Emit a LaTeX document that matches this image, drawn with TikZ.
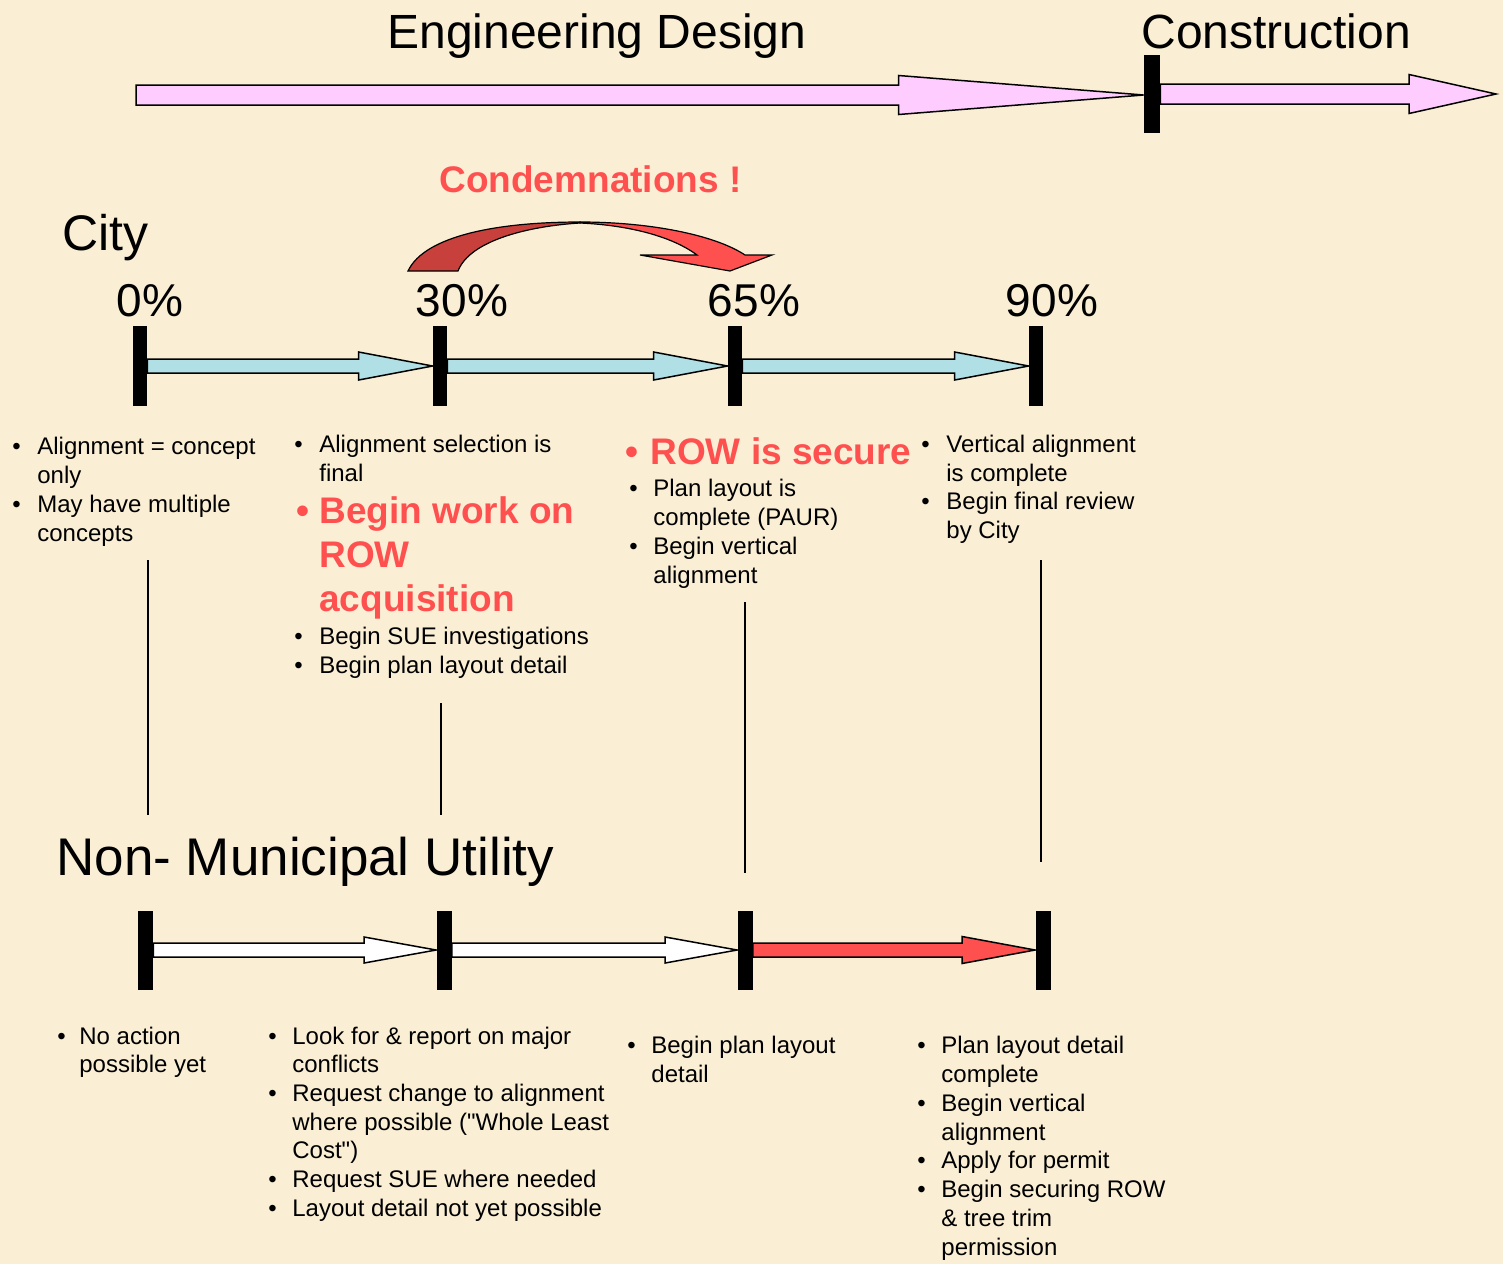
\documentclass[tikz,border=0pt]{standalone}
\usepackage{fontspec}
\setmainfont{Liberation Sans}[Ligatures=TeXOff]
\usetikzlibrary{calc}
\definecolor{bg}{RGB}{250,239,213}
\definecolor{rowred}{RGB}{255,80,80}
\definecolor{darkred}{RGB}{200,64,60}
\definecolor{pinkfill}{RGB}{255,204,255}
\definecolor{bluefill}{RGB}{176,224,230}
\newcommand\bitem[2]{\llap{\makebox[#1][l]{\textbullet}}\begin{tabular}[t]{@{}l@{}}#2\end{tabular}}
\newcommand\blockarrow[6]{%
  \draw[#1] let \p1=(#2), \p2=(#3) in
  (\x1,\y1+#4) -- (\x2-#6,\y1+#4) -- (\x2-#6,\y1+#5) -- (\x2,\y1)
  -- (\x2-#6,\y1-#5) -- (\x2-#6,\y1-#4) -- (\x1,\y1-#4) -- cycle;}
\tikzset{
  bar/.style={fill=black, draw=none, inner sep=0pt, minimum width=7pt, minimum height=40pt},
  ubar/.style={bar, minimum width=7.5pt, minimum height=39.5pt},
  tbar/.style={bar, minimum width=8pt, minimum height=39pt},
  blk/.style={draw=black, line width=0.75pt, line join=miter},
  title/.style={inner sep=0pt, anchor=base west, font=\fontsize{24}{28}\selectfont},
  pct/.style={inner sep=0pt, anchor=base, font=\fontsize{23}{27}\selectfont},
  txt/.style={inner sep=0pt, anchor=base west, font=\fontsize{12}{14.5}\selectfont},
  utxt/.style={txt, font=\fontsize{12}{14.35}\selectfont},
  redtxt/.style={inner sep=0pt, anchor=base west, text=rowred, font=\fontsize{18.5}{22}\selectfont\bfseries},
  vline/.style={draw=black, line width=0.8pt},
}
\begin{document}
\begin{tikzpicture}[x=0.5pt,y=-0.5pt]
\fill[bg] (0,0) rectangle (1503,1264);
\useasboundingbox (0,0) rectangle (1503,1264);

% titles
\node[title] (engd) at (387,48) {Engineering Design};
\node[title] (constr) at (1141,48) {Construction};
\node[inner sep=0pt, anchor=base west, text=rowred, font=\fontsize{18.5}{22}\selectfont\bfseries] (cond) at (439,192) {Condemnations !};
\node[title, font=\fontsize{25}{30}\selectfont] (city) at (62,250) {City};
\node[title, font=\fontsize{26.5}{31}\selectfont] (nmu) at (56,875) {Non- Municipal Utility};

% top arrows
\coordinate (es) at (136,95);
\coordinate (ee) at (1496,95);
\node[tbar] (cb) at (1152,94) {};
\blockarrow{blk, fill=pinkfill}{es}{cb.west}{5pt}{9.75pt}{122.5pt}
\blockarrow{blk, fill=pinkfill}{cb.east}{ee}{5pt}{9.75pt}{43.5pt}

% condemnation curved arrow
\filldraw[fill=rowred, draw=black, line width=0.6pt]
  (580,222) .. controls (650,222) and (715,235) .. (745,255)
  -- (772,255) -- (730,271) -- (640,255) -- (697,255)
  .. controls (670,235) and (625,225) .. (580,223) -- cycle;
\filldraw[fill=darkred, draw=black, line width=0.6pt]
  (408,271) .. controls (425,235) and (500,222) .. (580,222)
  -- (580,223) .. controls (530,226) and (470,240) .. (458,271) -- cycle;

% percentages
\node[pct] (p0) at (150,316) {0\%};
\node[pct] (p30) at (462,316) {30\%};
\node[pct] (p65) at (754,316) {65\%};
\node[pct] (p90) at (1052,316) {90\%};

% city timeline
\node[bar] (c0) at (140,366) {};
\node[bar] (c30) at (440,366) {};
\node[bar] (c65) at (735,366) {};
\node[bar] (c90) at (1036,366) {};
\blockarrow{blk, fill=bluefill}{c0.east}{c30.west}{3.5pt}{7pt}{37pt}
\blockarrow{blk, fill=bluefill}{c30.east}{c65.west}{3.5pt}{7pt}{37pt}
\blockarrow{blk, fill=bluefill}{c65.east}{c90.west}{3.5pt}{7pt}{37pt}

% utility timeline
\node[ubar] (u0) at (145.5,950) {};
\node[ubar] (u30) at (444,950) {};
\node[ubar] (u65) at (745,950) {};
\node[ubar] (u90) at (1043,950) {};
\blockarrow{blk, fill=white}{u0.east}{u30.west}{3.5pt}{6.5pt}{36pt}
\blockarrow{blk, fill=white}{u30.east}{u65.west}{3.5pt}{6.5pt}{36pt}
\blockarrow{blk, fill=rowred}{u65.east}{u90.west}{3.5pt}{6.75pt}{36.5pt}

% vertical connector lines
\coordinate (l0a) at (148,560);  \coordinate (l0b) at (148,815);
\coordinate (l30a) at (441,703); \coordinate (l30b) at (441,815);
\coordinate (l65a) at (745,602); \coordinate (l65b) at (745,873);
\coordinate (l90a) at (1041,560);\coordinate (l90b) at (1041,862);
\draw[vline] (l0a) -- (l0b);
\draw[vline] (l30a) -- (l30b);
\draw[vline] (l65a) -- (l65b);
\draw[vline] (l90a) -- (l90b);

% city texts
\node[txt] (a1) at (37,454) {\bitem{12.5pt}{Alignment = concept\\only}};
\node[txt] (a2) at (37,512) {\bitem{12.5pt}{May have multiple\\concepts}};
\node[txt] (b1) at (319,452) {\bitem{12.5pt}{Alignment selection is\\final}};
\node[redtxt] (b2) at (319,523) {\bitem{11.5pt}{Begin work on\\ROW\\acquisition}};
\node[txt] (b3) at (319,644) {\bitem{12.5pt}{Begin SUE investigations}};
\node[txt] (b4) at (319,673) {\bitem{12.5pt}{Begin plan layout detail}};
\node[redtxt] (d1) at (650,464) {\bitem{12.5pt}{ROW is secure}};
\node[txt] (d2) at (653,496) {\bitem{12pt}{Plan layout is\\complete (PAUR)}};
\node[txt] (d3) at (653,554) {\bitem{12pt}{Begin vertical\\alignment}};
\node[txt] (e1) at (946,452) {\bitem{12.5pt}{Vertical alignment\\is complete}};
\node[txt] (e2) at (946,509) {\bitem{12.5pt}{Begin final review\\by City}};

% utility texts
\node[utxt] (f1) at (79,1044) {\bitem{11pt}{No action\\possible yet}};
\node[utxt] (g1) at (292,1044) {\bitem{12pt}{Look for \& report on major\\conflicts}};
\node[utxt] (g2) at (292,1101.4) {\bitem{12pt}{Request change to alignment\\where possible ("Whole Least\\Cost")}};
\node[utxt] (g3) at (292,1187.5) {\bitem{12pt}{Request SUE where needed}};
\node[utxt] (g4) at (292,1216.2) {\bitem{12pt}{Layout detail not yet possible}};
\node[txt] (h1) at (651,1053) {\bitem{12pt}{Begin plan layout\\detail}};
\node[txt] (k1) at (941,1053) {\bitem{12pt}{Plan layout detail\\complete}};
\node[txt] (k2) at (941,1111) {\bitem{12pt}{Begin vertical\\alignment}};
\node[txt] (k3) at (941,1168.5) {\bitem{12pt}{Apply for permit}};
\node[txt] (k4) at (941,1197.5) {\bitem{12pt}{Begin securing ROW\\\& tree trim\\permission}};
\end{tikzpicture}
\end{document}
